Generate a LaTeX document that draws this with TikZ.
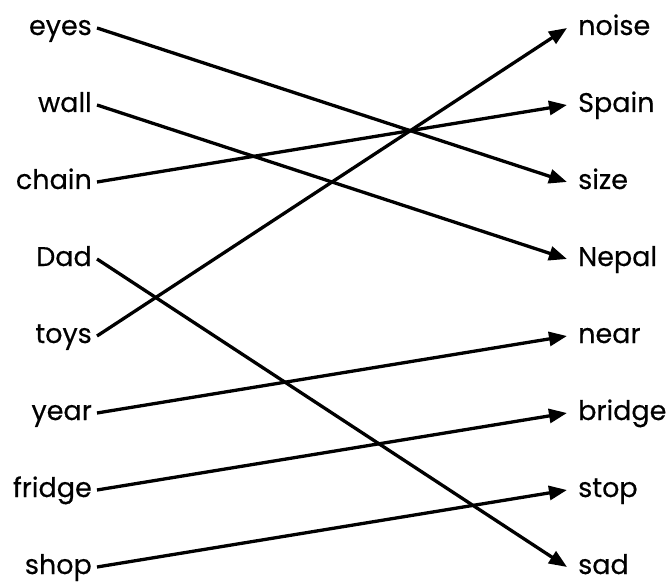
\documentclass[tikz,border=0pt]{standalone}
\usepackage{fontspec}
\setmainfont{Poppins}
\newfontfamily\labfont{Poppins}[FakeBold=0.4]
\usetikzlibrary{arrows.meta}
\begin{document}
\begin{tikzpicture}[x=1pt,y=-1pt,
  lab/.style={font=\labfont\fontsize{27}{30}\selectfont, text height=17pt, text depth=3pt, inner ysep=0pt},
  lft/.style={lab, anchor=east, inner xsep=5pt},
  rgt/.style={lab, anchor=west, inner xsep=11pt},
  conn/.style={line width=3.3pt, -{Triangle[length=18pt,width=14pt]}}]
\useasboundingbox (0,0) rectangle (669,585);
\node[lft] (eyes)   at (97,28)  {eyes};
\node[lft] (wall)   at (97,105) {wall};
\node[lft] (chain)  at (97,182) {chain};
\node[lft] (Dad)    at (97,259) {Dad};
\node[lft] (toys)   at (97,336) {toys};
\node[lft] (year)   at (97,413) {year};
\node[lft] (fridge) at (97,490) {fridge};
\node[lft] (shop)   at (97,567) {shop};
\node[rgt] (noise)  at (567,28)  {noise};
\node[rgt] (Spain)  at (567,105) {Spain};
\node[rgt] (size)   at (567,182) {size};
\node[rgt] (Nepal)  at (567,259) {Nepal};
\node[rgt] (near)   at (567,336) {near};
\node[rgt] (bridge) at (567,413) {bridge};
\node[rgt] (stop)   at (567,490) {stop};
\node[rgt] (sad)    at (567,567) {sad};
\draw[conn] (eyes.east) -- (size.west);
\draw[conn] (wall.east) -- (Nepal.west);
\draw[conn] (chain.east) -- (Spain.west);
\draw[conn] (Dad.east) -- (sad.west);
\draw[conn] (toys.east) -- (noise.west);
\draw[conn] (year.east) -- (near.west);
\draw[conn] (fridge.east) -- (bridge.west);
\draw[conn] (shop.east) -- (stop.west);
\end{tikzpicture}
\end{document}
